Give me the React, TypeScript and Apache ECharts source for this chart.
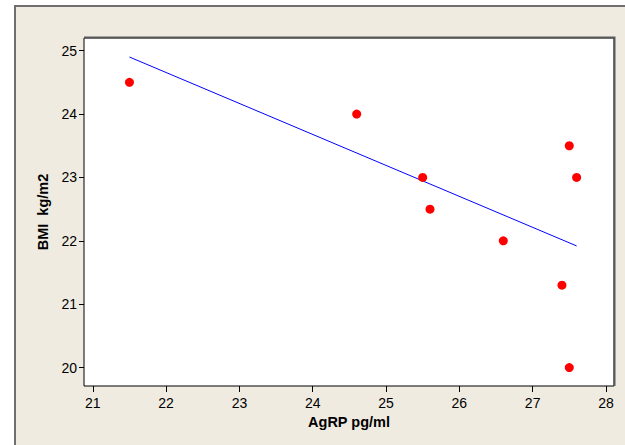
import React, { useEffect, useRef } from "react";
import * as echarts from "echarts";

const agrp = [21.5, 24.6, 25.5, 25.6, 26.6, 27.4, 27.5, 27.5, 27.6];
const bmi = [24.5, 24.0, 23.0, 22.5, 22.0, 21.3, 23.5, 20.0, 23.0];
const fitX = [21.5, 27.6];
const fitY = [24.9, 21.92];
const xTicks = [21, 22, 23, 24, 25, 26, 27, 28];
const yTicks = [20, 21, 22, 23, 24, 25];

export default function App() {
  const ref = useRef<HTMLDivElement>(null);
  useEffect(() => {
    document.body.style.margin = "0";
    const chart = echarts.init(ref.current!, null, { renderer: "svg" });
    const font = "'Liberation Sans', Arial, sans-serif";
    chart.setOption({
      animation: false,
      backgroundColor: "#ffffff",
      textStyle: { fontFamily: font },
      graphic: [
        {
          type: "rect",
          z: -10,
          silent: true,
          shape: { x: 15, y: 6, width: 700, height: 500 },
          style: { fill: "#EFEBE1", stroke: "#6f6f6f", lineWidth: 2 },
        },
        {
          type: "polyline",
          z: 10,
          silent: true,
          shape: { points: [[84, 37.5], [614.5, 37.5], [614.5, 386]] },
          style: { fill: null, stroke: "#5a5a5a", lineWidth: 2 },
        },
      ],
      grid: {
        left: 84,
        top: 38,
        right: 11,
        bottom: 59,
        show: true,
        backgroundColor: "#ffffff",
        borderColor: "#000000",
        borderWidth: 1,
        z: 1,
      },
      xAxis: {
        type: "value",
        min: 20.88,
        max: 28.11,
        name: "AgRP pg/ml",
        nameLocation: "middle",
        nameGap: 27,
        nameTextStyle: { fontSize: 14.5, fontWeight: "bold", color: "#000", fontFamily: font },
        axisLine: { show: false },
        splitLine: { show: false },
        axisTick: { show: true, length: 6, customValues: xTicks, lineStyle: { color: "#000" } },
        axisLabel: { customValues: xTicks, fontSize: 14, color: "#000", margin: 10, fontFamily: font },
      },
      yAxis: {
        type: "value",
        min: 19.71,
        max: 25.2,
        name: "BMI  kg/m2",
        nameLocation: "middle",
        nameGap: 31,
        nameTextStyle: { fontSize: 14.5, fontWeight: "bold", color: "#000", fontFamily: font },
        axisLine: { show: false },
        splitLine: { show: false },
        axisTick: { show: true, length: 5, customValues: yTicks, lineStyle: { color: "#000" } },
        axisLabel: { customValues: yTicks, fontSize: 14, color: "#000", margin: 7, fontFamily: font },
      },
      series: [
        {
          type: "line",
          data: fitX.map((x, i) => [x, fitY[i]]),
          showSymbol: false,
          symbol: "none",
          lineStyle: { color: "#0000ff", width: 1 },
          z: 3,
        },
        {
          type: "scatter",
          data: agrp.map((x, i) => [x, bmi[i]]),
          symbol: "circle",
          symbolSize: 9,
          itemStyle: { color: "#ff0000", opacity: 1 },
          z: 4,
        },
      ],
    });
    return () => chart.dispose();
  }, []);
  return <div ref={ref} style={{ width: 625, height: 445 }} />;
}
